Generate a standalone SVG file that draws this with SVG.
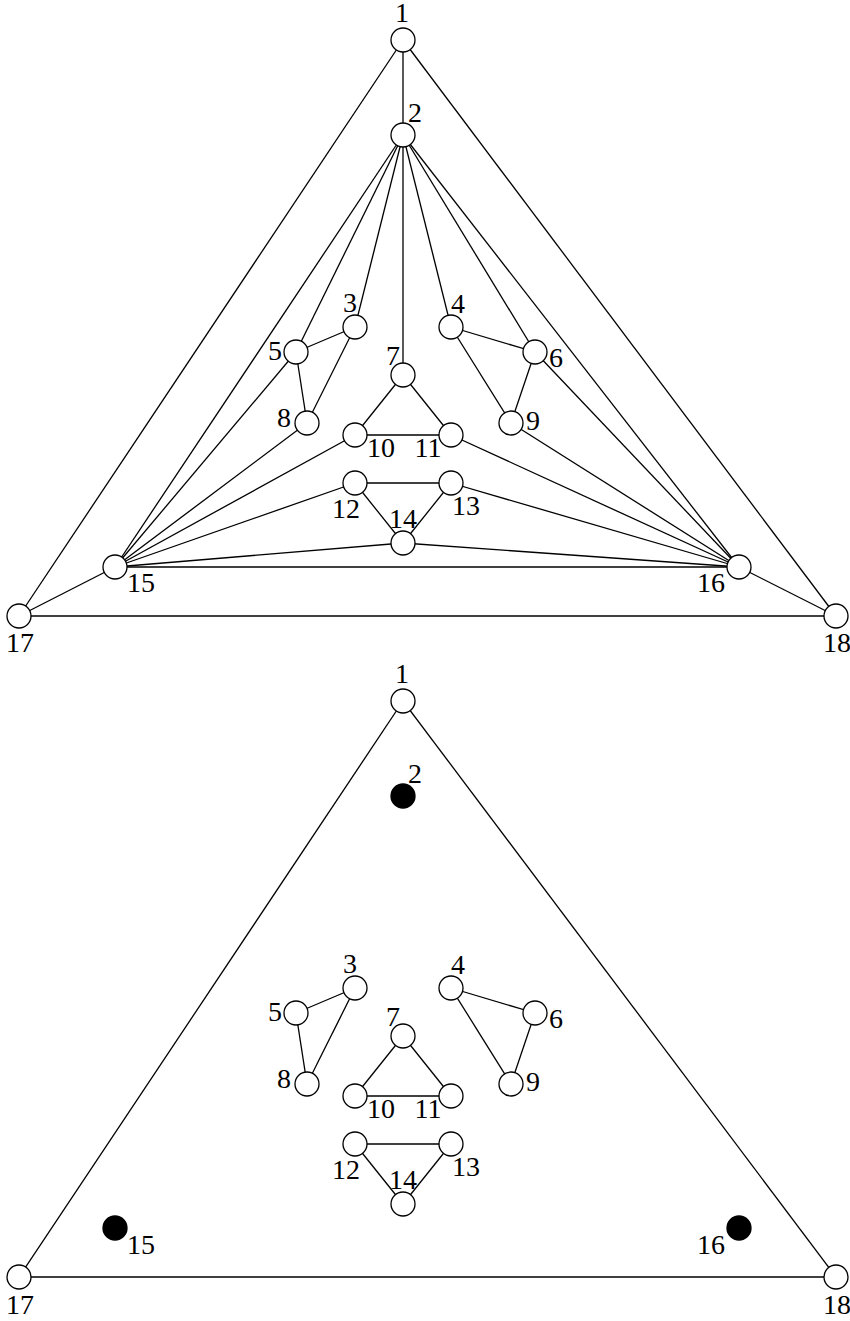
<svg xmlns="http://www.w3.org/2000/svg" width="850" height="1321" viewBox="0 0 850 1321">
<style>
.e line{stroke:#000;stroke-width:1.3}
.n circle{fill:#fff;stroke:#000;stroke-width:1.3}
.n circle.f{fill:#000}
.n text{font-family:"Liberation Serif","Times New Roman",serif;font-size:28px;fill:#000;text-anchor:middle}
</style>
<rect width="850" height="1321" fill="#fff"/>
<g id="connectors" class="e">
<line x1="403" y1="40" x2="403" y2="135"/>
<line x1="403" y1="40" x2="19" y2="616"/>
<line x1="403" y1="40" x2="836" y2="616"/>
<line x1="19" y1="616" x2="836" y2="616"/>
<line x1="19" y1="616" x2="115" y2="567"/>
<line x1="836" y1="616" x2="739" y2="567"/>
<line x1="115" y1="567" x2="739" y2="567"/>
<line x1="403" y1="135" x2="355" y2="327"/>
<line x1="403" y1="135" x2="296" y2="352"/>
<line x1="403" y1="135" x2="403" y2="375"/>
<line x1="403" y1="135" x2="451" y2="327"/>
<line x1="403" y1="135" x2="535" y2="352"/>
<line x1="403" y1="135" x2="115" y2="567"/>
<line x1="403" y1="135" x2="739" y2="567"/>
<line x1="355" y1="327" x2="296" y2="352"/>
<line x1="355" y1="327" x2="307" y2="423"/>
<line x1="296" y1="352" x2="307" y2="423"/>
<line x1="296" y1="352" x2="115" y2="567"/>
<line x1="307" y1="423" x2="115" y2="567"/>
<line x1="451" y1="327" x2="535" y2="352"/>
<line x1="451" y1="327" x2="511" y2="423"/>
<line x1="535" y1="352" x2="511" y2="423"/>
<line x1="535" y1="352" x2="739" y2="567"/>
<line x1="511" y1="423" x2="739" y2="567"/>
<line x1="403" y1="375" x2="355" y2="435"/>
<line x1="403" y1="375" x2="451" y2="435"/>
<line x1="355" y1="435" x2="451" y2="435"/>
<line x1="355" y1="435" x2="115" y2="567"/>
<line x1="451" y1="435" x2="739" y2="567"/>
<line x1="355" y1="483" x2="451" y2="483"/>
<line x1="355" y1="483" x2="403" y2="543"/>
<line x1="451" y1="483" x2="403" y2="543"/>
<line x1="355" y1="483" x2="115" y2="567"/>
<line x1="451" y1="483" x2="739" y2="567"/>
<line x1="403" y1="543" x2="115" y2="567"/>
<line x1="403" y1="543" x2="739" y2="567"/>
<line x1="403" y1="701" x2="19" y2="1277"/>
<line x1="403" y1="701" x2="836" y2="1277"/>
<line x1="19" y1="1277" x2="836" y2="1277"/>
<line x1="355" y1="988" x2="296" y2="1013"/>
<line x1="355" y1="988" x2="307" y2="1084"/>
<line x1="296" y1="1013" x2="307" y2="1084"/>
<line x1="451" y1="988" x2="535" y2="1013"/>
<line x1="451" y1="988" x2="511" y2="1084"/>
<line x1="535" y1="1013" x2="511" y2="1084"/>
<line x1="403" y1="1036" x2="355" y2="1096"/>
<line x1="403" y1="1036" x2="451" y2="1096"/>
<line x1="355" y1="1096" x2="451" y2="1096"/>
<line x1="355" y1="1144" x2="451" y2="1144"/>
<line x1="355" y1="1144" x2="403" y2="1204"/>
<line x1="451" y1="1144" x2="403" y2="1204"/>
</g>
<g id="top-nodes" class="n">
<g id="a1"><circle cx="403" cy="40" r="12"/><text x="402" y="22">1</text></g>
<g id="a2"><circle cx="403" cy="135" r="12"/><text x="415" y="122">2</text></g>
<g id="a3"><circle cx="355" cy="327" r="12"/><text x="350" y="312">3</text></g>
<g id="a4"><circle cx="451" cy="327" r="12"/><text x="458" y="313">4</text></g>
<g id="a5"><circle cx="296" cy="352" r="12"/><text x="275" y="360">5</text></g>
<g id="a6"><circle cx="535" cy="352" r="12"/><text x="556" y="367">6</text></g>
<g id="a7"><circle cx="403" cy="375" r="12"/><text x="393" y="365">7</text></g>
<g id="a8"><circle cx="307" cy="423" r="12"/><text x="284" y="427">8</text></g>
<g id="a9"><circle cx="511" cy="423" r="12"/><text x="533" y="430">9</text></g>
<g id="a10"><circle cx="355" cy="435" r="12"/><text x="381" y="457">10</text></g>
<g id="a11"><circle cx="451" cy="435" r="12"/><text x="428" y="457">11</text></g>
<g id="a12"><circle cx="355" cy="483" r="12"/><text x="346" y="518">12</text></g>
<g id="a13"><circle cx="451" cy="483" r="12"/><text x="466" y="515">13</text></g>
<g id="a14"><circle cx="403" cy="543" r="12"/><text x="403" y="528">14</text></g>
<g id="a15"><circle cx="115" cy="567" r="12"/><text x="141" y="592">15</text></g>
<g id="a16"><circle cx="739" cy="567" r="12"/><text x="711" y="592">16</text></g>
<g id="a17"><circle cx="19" cy="616" r="12"/><text x="20" y="652">17</text></g>
<g id="a18"><circle cx="836" cy="616" r="12"/><text x="837" y="652">18</text></g>
</g>
<g id="bottom-nodes" class="n">
<g id="b1"><circle cx="403" cy="701" r="12"/><text x="402" y="683">1</text></g>
<g id="b2"><circle class="f" cx="403" cy="796" r="12"/><text x="415" y="783">2</text></g>
<g id="b3"><circle cx="355" cy="988" r="12"/><text x="350" y="973">3</text></g>
<g id="b4"><circle cx="451" cy="988" r="12"/><text x="458" y="974">4</text></g>
<g id="b5"><circle cx="296" cy="1013" r="12"/><text x="275" y="1021">5</text></g>
<g id="b6"><circle cx="535" cy="1013" r="12"/><text x="556" y="1028">6</text></g>
<g id="b7"><circle cx="403" cy="1036" r="12"/><text x="393" y="1026">7</text></g>
<g id="b8"><circle cx="307" cy="1084" r="12"/><text x="284" y="1088">8</text></g>
<g id="b9"><circle cx="511" cy="1084" r="12"/><text x="533" y="1091">9</text></g>
<g id="b10"><circle cx="355" cy="1096" r="12"/><text x="381" y="1118">10</text></g>
<g id="b11"><circle cx="451" cy="1096" r="12"/><text x="428" y="1118">11</text></g>
<g id="b12"><circle cx="355" cy="1144" r="12"/><text x="346" y="1179">12</text></g>
<g id="b13"><circle cx="451" cy="1144" r="12"/><text x="466" y="1176">13</text></g>
<g id="b14"><circle cx="403" cy="1204" r="12"/><text x="403" y="1189">14</text></g>
<g id="b15"><circle class="f" cx="115" cy="1228" r="12"/><text x="141" y="1254">15</text></g>
<g id="b16"><circle class="f" cx="739" cy="1228" r="12"/><text x="711" y="1254">16</text></g>
<g id="b17"><circle cx="19" cy="1277" r="12"/><text x="20" y="1314">17</text></g>
<g id="b18"><circle cx="836" cy="1277" r="12"/><text x="837" y="1314">18</text></g>
</g>
</svg>
